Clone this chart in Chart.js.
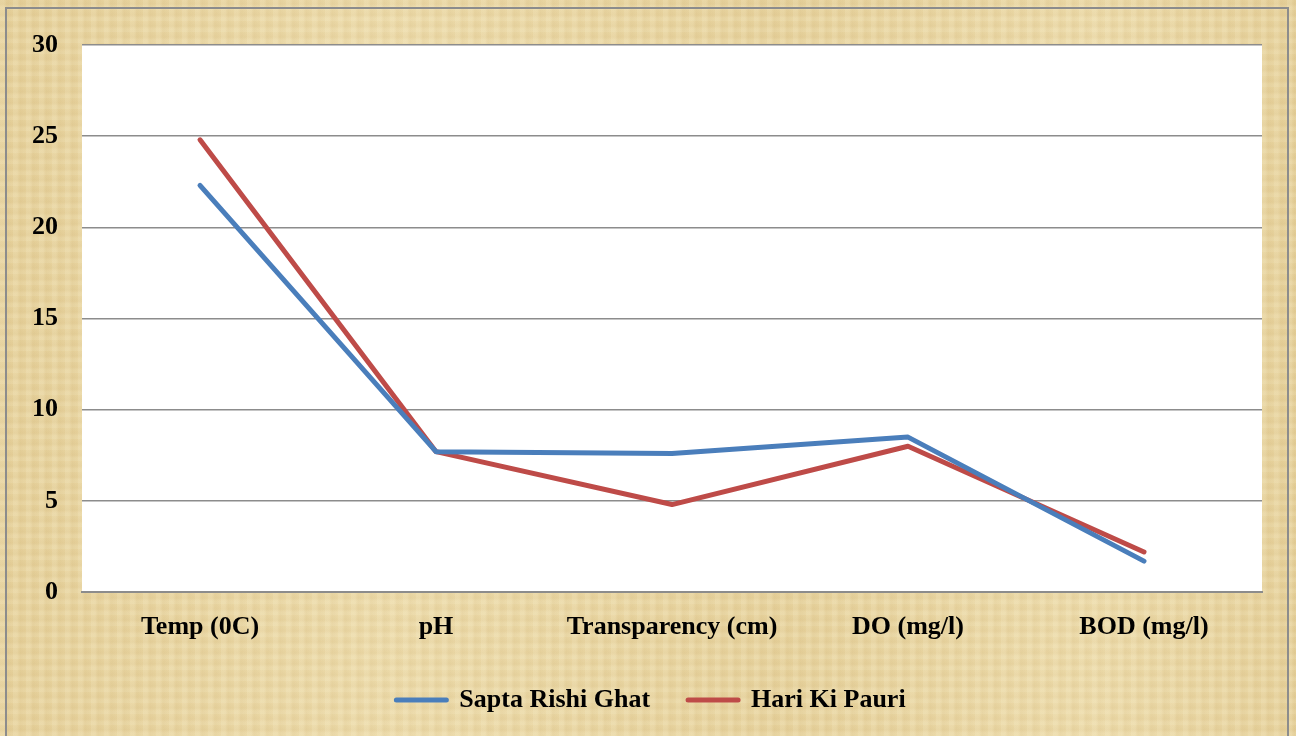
<!DOCTYPE html>
<html>
<head>
<meta charset="utf-8">
<script src="https://cdn.jsdelivr.net/npm/chart.js@4"></script>
<style>
  html, body { margin: 0; padding: 0; }
  body {
    width: 1296px; height: 736px; overflow: hidden; position: relative;
    background-color: #e9d6a3;
    background-image:
      repeating-linear-gradient(90deg, rgba(255,250,225,0.12) 0px, rgba(255,250,225,0.12) 4px, rgba(170,130,60,0.05) 7px, rgba(255,250,225,0.0) 13px),
      repeating-linear-gradient(0deg, rgba(255,250,225,0.10) 0px, rgba(255,250,225,0.10) 3px, rgba(170,130,60,0.05) 6px, rgba(255,250,225,0.0) 11px),
      linear-gradient(90deg, rgba(200,160,80,0.10), rgba(255,245,210,0.12) 30%, rgba(200,160,80,0.08) 60%, rgba(255,245,210,0.12) 85%, rgba(200,160,80,0.10));
  }
  #frame {
    position: absolute; left: 5px; top: 7px; width: 1284px; height: 740px;
    border: 2px solid #8c8c8c; box-sizing: border-box; pointer-events: none;
  }
  #wrap { position: absolute; left: 0; top: 0; width: 1296px; height: 736px; }
</style>
</head>
<body>
<div id="wrap"><canvas id="chart" width="1296" height="736"></canvas></div>
<div id="frame"></div>
<script>
var categories = ['Temp (0C)', 'pH', 'Transparency (cm)', 'DO (mg/l)', 'BOD (mg/l)'];
var saptaRishi = [22.3, 7.7, 7.6, 8.5, 1.7];
var hariKiPauri = [24.8, 7.7, 4.8, 8.0, 2.2];
var yTicks = [0, 5, 10, 15, 20, 25, 30];

var font = { family: '"Liberation Serif", "Times New Roman", serif', size: 26, weight: 'bold' };

// white plot area on the parchment, and nudge the legend to where it sits in the original
var plotBg = {
  id: 'plotBg',
  beforeDraw: function (chart) {
    var a = chart.chartArea;
    chart.ctx.save();
    chart.ctx.fillStyle = '#ffffff';
    chart.ctx.fillRect(a.left, a.top, a.right - a.left, a.bottom - a.top);
    chart.ctx.restore();
    var lg = chart.legend;
    if (lg && !lg._shifted) {
      lg.left += 16;
      lg.right += 16;
      lg.top -= 13;
      lg.bottom -= 13;
      lg._shifted = true;
    }
  }
};

var ctx = document.getElementById('chart').getContext('2d');
var chart = new Chart(ctx, {
  type: 'line',
  data: {
    labels: categories,
    datasets: [{
      label: 'Sapta Rishi Ghat',
      data: saptaRishi,
      borderColor: '#4a7ebb',
      backgroundColor: '#4a7ebb',
      borderWidth: 5,
      borderCapStyle: 'round',
      borderJoinStyle: 'round',
      pointRadius: 0,
      pointStyle: 'line',
      tension: 0
    }, {
      label: 'Hari Ki Pauri',
      data: hariKiPauri,
      borderColor: '#be4b48',
      backgroundColor: '#be4b48',
      borderWidth: 5,
      borderCapStyle: 'round',
      borderJoinStyle: 'round',
      pointRadius: 0,
      pointStyle: 'line',
      tension: 0
    }]
  },
  options: {
    responsive: false,
    animation: false,
    layout: { padding: { left: 8, right: 34, top: 45, bottom: 0 } },
    plugins: {
      tooltip: { enabled: false },
      legend: {
        position: 'bottom',
        labels: {
          usePointStyle: true,
          pointStyleWidth: 50,
          boxHeight: 5,
          padding: 38,
          color: '#000',
          font: font,
          generateLabels: function (c) {
            return Chart.defaults.plugins.legend.labels.generateLabels(c).map(function (l) {
              l.lineCap = 'round';
              l.lineWidth = 5;
              return l;
            });
          }
        }
      }
    },
    scales: {
      x: {
        offset: true,
        grid: { display: false, drawTicks: false },
        border: { display: true, color: '#8c8c8c', width: 2 },
        ticks: { color: '#000', font: Object.assign({}, font, { lineHeight: 1.15 }), padding: 20, maxRotation: 0 }
      },
      y: {
        min: 0,
        max: 30,
        afterBuildTicks: function (axis) {
          axis.ticks = yTicks.map(function (v) { return { value: v }; });
        },
        grid: { color: '#8c8c8c', lineWidth: 1.5, drawTicks: false },
        border: { display: false },
        ticks: { color: '#000', font: font, padding: 24 }
      }
    }
  },
  plugins: [plotBg]
});
</script>
</body>
</html>
